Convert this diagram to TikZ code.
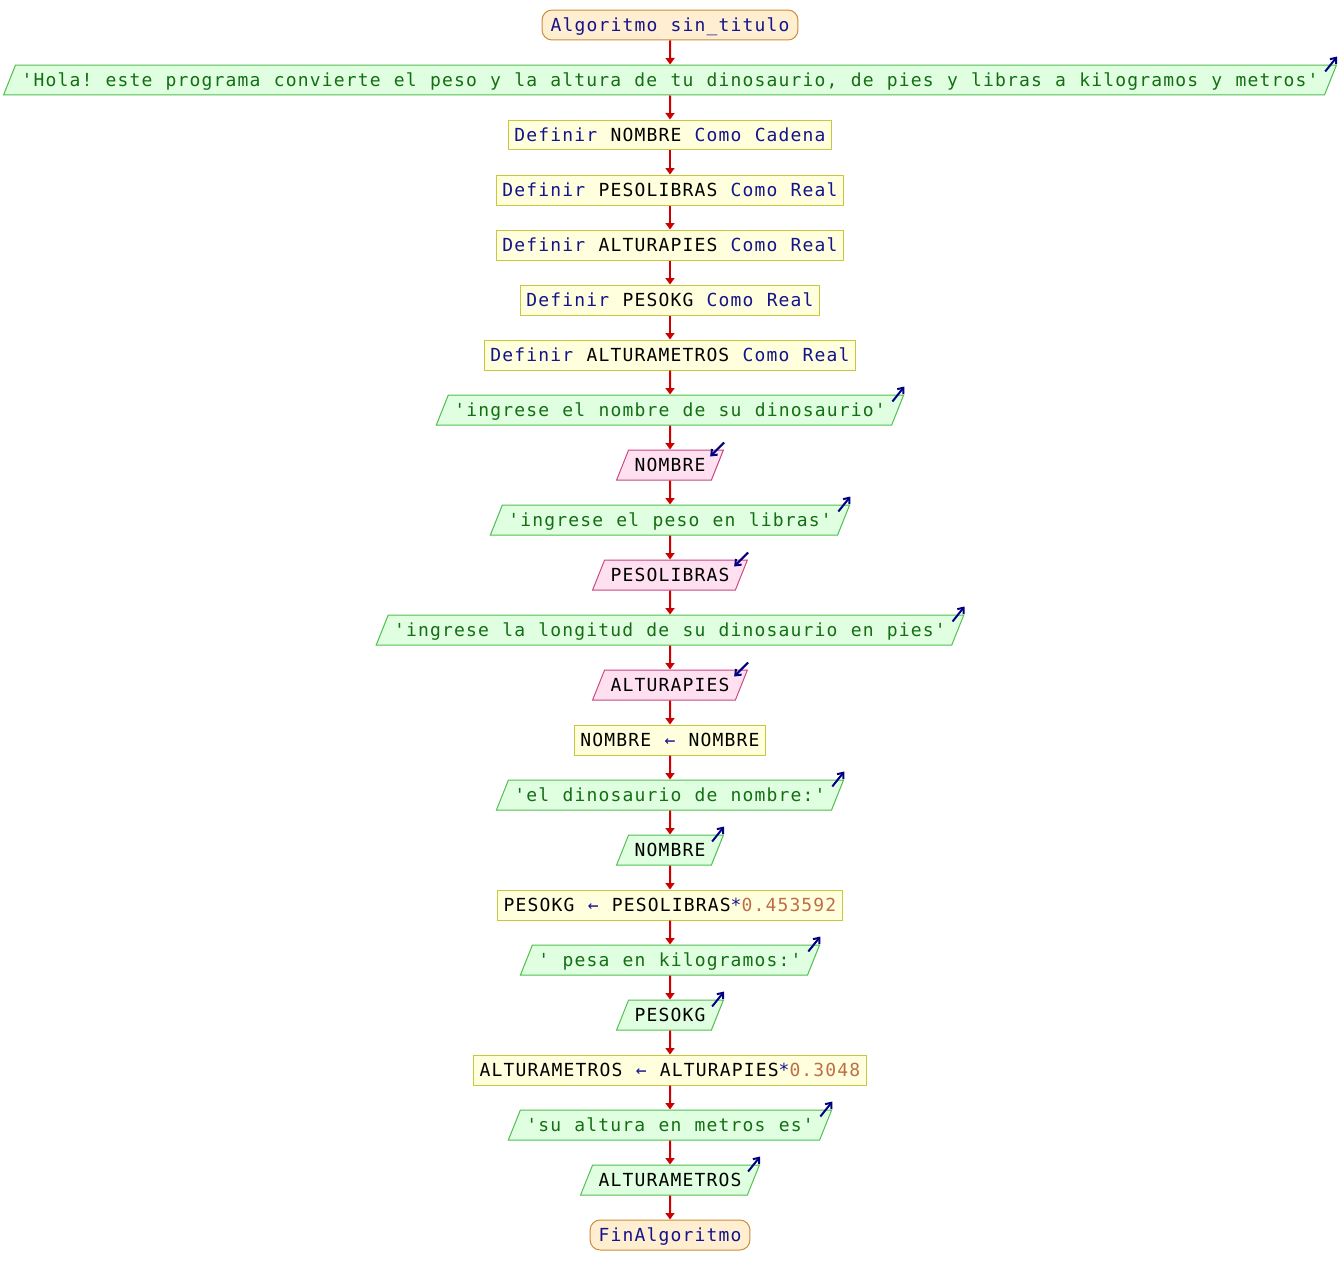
\documentclass[tikz,border=0pt]{standalone}
\usepackage{fontspec}
\setmonofont{DejaVu Sans Mono}[LetterSpace=6.48,WordSpace={1.1076,0,0}]
\usetikzlibrary{arrows.meta,shapes.geometric,calc}
\usepackage{xcolor}
\definecolor{kwblue}{RGB}{20,20,140}
\definecolor{strgreen}{RGB}{20,110,20}
\definecolor{numbrown}{RGB}{190,110,70}
\definecolor{termfill}{RGB}{255,238,208}
\definecolor{termline}{RGB}{204,140,60}
\definecolor{procfill}{RGB}{255,255,221}
\definecolor{procline}{RGB}{200,200,60}
\definecolor{outfill}{RGB}{224,255,224}
\definecolor{outline}{RGB}{80,190,80}
\definecolor{infill}{RGB}{255,224,240}
\definecolor{inline}{RGB}{200,70,130}
\definecolor{flowred}{RGB}{204,0,0}
\definecolor{iconblue}{RGB}{0,0,128}
\newcommand{\kw}[1]{\textcolor{kwblue}{#1}}
\newcommand{\strg}[1]{\textcolor{strgreen}{#1}}
\newcommand{\nm}[1]{\textcolor{numbrown}{#1}}
\frenchspacing

\begin{document}
\begin{tikzpicture}[x=0.02cm,y=-0.02cm,
    code/.style={font=\ttfamily\fontsize{10.24pt}{12pt}\selectfont, text height=0.37cm, text depth=0.11cm, inner ysep=0.06cm, line width=0.02cm},
    term/.style={code, rectangle, draw=termline, fill=termfill, rounded corners=0.2cm, inner xsep=0.17cm, text=kwblue},
    proc/.style={code, rectangle, draw=procline, fill=procfill, inner xsep=0.12cm},
    io/.style={code, trapezium, trapezium left angle=68.2, trapezium right angle=111.8, inner xsep=0.12cm},
    outp/.style={io, draw=outline, fill=outfill},
    inp/.style={io, draw=inline, fill=infill},
    flow/.style={draw=flowred, line width=0.04cm, -{Triangle[length=0.13cm,width=0.18cm]}},
    icon/.style={draw=iconblue, line width=0.04cm, -{Straight Barb[length=0.1cm,width=0.16cm]}}]
    \useasboundingbox (0,0) rectangle (1340,1285);

    % Declarations
    \node[term] (start) at (670,25) {Algoritmo sin\_titulo};
    \node[outp] (hola) at (670,80) {\strg{'Hola! este programa convierte el peso y la altura de tu dinosaurio, de pies y libras a kilogramos y metros'}};
    \node[proc] (defNombre) at (670,135) {\kw{Definir} NOMBRE \kw{Como} \kw{Cadena}};
    \node[proc] (defPesoLb) at (670,190) {\kw{Definir} PESOLIBRAS \kw{Como} \kw{Real}};
    \node[proc] (defAltPies) at (670,245) {\kw{Definir} ALTURAPIES \kw{Como} \kw{Real}};
    \node[proc] (defPesoKg) at (670,300) {\kw{Definir} PESOKG \kw{Como} \kw{Real}};
    \node[proc] (defAltM) at (670,355) {\kw{Definir} ALTURAMETROS \kw{Como} \kw{Real}};

    % Reading the data
    \node[outp] (askNombre) at (670,410) {\strg{'ingrese el nombre de su dinosaurio'}};
    \node[inp] (readNombre) at (670,465) {NOMBRE};
    \node[outp] (askPeso) at (670,520) {\strg{'ingrese el peso en libras'}};
    \node[inp] (readPeso) at (670,575) {PESOLIBRAS};
    \node[outp] (askAlt) at (670,630) {\strg{'ingrese la longitud de su dinosaurio en pies'}};
    \node[inp] (readAlt) at (670,685) {ALTURAPIES};

    % Conversion and output
    \node[proc] (setNombre) at (670,740) {NOMBRE \kw{←} NOMBRE};
    \node[outp] (showTitle) at (670,795) {\strg{'el dinosaurio de nombre:'}};
    \node[outp] (showNombre) at (670,850) {NOMBRE};
    \node[proc] (setPesoKg) at (670,905) {PESOKG \kw{←} PESOLIBRAS\kw{*}\nm{0.453592}};
    \node[outp] (showPesa) at (670,960) {\strg{' pesa en kilogramos:'}};
    \node[outp] (showPesoKg) at (670,1015) {PESOKG};
    \node[proc] (setAltM) at (670,1070) {ALTURAMETROS \kw{←} ALTURAPIES\kw{*}\nm{0.3048}};
    \node[outp] (showAltura) at (670,1125) {\strg{'su altura en metros es'}};
    \node[outp] (showAltM) at (670,1180) {ALTURAMETROS};
    \node[term] (finish) at (670,1235) {FinAlgoritmo};

    % Flow
    \foreach \a/\b in {start/hola, hola/defNombre, defNombre/defPesoLb, defPesoLb/defAltPies,
        defAltPies/defPesoKg, defPesoKg/defAltM, defAltM/askNombre, askNombre/readNombre,
        readNombre/askPeso, askPeso/readPeso, readPeso/askAlt, askAlt/readAlt, readAlt/setNombre,
        setNombre/showTitle, showTitle/showNombre, showNombre/setPesoKg, setPesoKg/showPesa,
        showPesa/showPesoKg, showPesoKg/setAltM, setAltM/showAltura, showAltura/showAltM,
        showAltM/finish}
        \draw[flow] (\a) -- (\b);

    % Output and input marks
    \foreach \n in {hola, askNombre, askPeso, askAlt, showTitle, showNombre, showPesa, showPesoKg, showAltura, showAltM}
        \draw[icon] ($(\n.top right corner)+(-12,7)$) -- ($(\n.top right corner)+(0,-8)$);
    \foreach \n in {readNombre, readPeso, readAlt}
        \draw[icon] ($(\n.top right corner)+(0,-7)$) -- ($(\n.top right corner)+(-14,7)$);
\end{tikzpicture}
\end{document}
